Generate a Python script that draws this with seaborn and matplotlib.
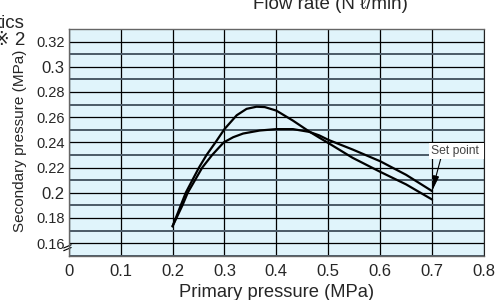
import matplotlib
matplotlib.use("Agg")
import matplotlib.pyplot as plt
import pandas as pd
import seaborn as sns
from matplotlib.ticker import MultipleLocator

# curve: higher peak, ends lower at 0.7 MPa
x_a = [0.200, 0.2159, 0.2255, 0.2382, 0.2510, 0.2656, 0.2828, 0.300, 0.3236, 0.3427,
       0.3618, 0.3777, 0.400, 0.4318, 0.4637, 0.4828, 0.500, 0.547, 0.600, 0.650, 0.700]
y_a = [0.1733, 0.190, 0.200, 0.210, 0.220, 0.230, 0.240, 0.2505, 0.2615, 0.2666,
       0.2683, 0.2680, 0.2652, 0.2573, 0.2485, 0.2437, 0.2395, 0.2277, 0.2166, 0.2066, 0.1946]

# flatter curve, ends at the set point
x_b = [0.200, 0.2191, 0.2293, 0.2433, 0.2573, 0.2764, 0.2987, 0.317, 0.336, 0.368,
       0.400, 0.432, 0.4637, 0.4828, 0.500, 0.547, 0.600, 0.650, 0.700]
y_b = [0.1733, 0.190, 0.200, 0.210, 0.220, 0.230, 0.240, 0.2441, 0.2470, 0.2494,
       0.2505, 0.2505, 0.2483, 0.2455, 0.2420, 0.2343, 0.2250, 0.2142, 0.2013]

x_ticks = [0, 0.1, 0.2, 0.3, 0.4, 0.5, 0.6, 0.7, 0.8]
x_labels = ["0", "0.1", "0.2", "0.3", "0.4", "0.5", "0.6", "0.7", "0.8"]
y_ticks = [0.16, 0.18, 0.20, 0.22, 0.24, 0.26, 0.28, 0.30, 0.32]
y_labels = ["0.16", "0.18", "0.2", "0.22", "0.24", "0.26", "0.28", "0.3", "0.32"]
set_point = (0.700, 0.2013)

sns.set_style("white")
plt.rcParams["font.family"] = ["Liberation Sans", "DejaVu Sans"]

df = pd.concat([
    pd.DataFrame({"x": x_a, "y": y_a, "curve": "a"}),
    pd.DataFrame({"x": x_b, "y": y_b, "curve": "b"}),
])

fig = plt.figure(figsize=(5, 3), dpi=100)
ax = fig.add_axes([0.1374, 0.1477, 0.8306, 0.7556])
ax.set_facecolor("#e0f4fb")

ax.set_xlim(0, 0.8)
ax.set_ylim(0.15, 0.33)
ax.yaxis.set_minor_locator(MultipleLocator(0.01))
ax.grid(which="minor", axis="y", color="#4a5a66", lw=1.4)
ax.grid(which="major", axis="y", color="black", lw=0.9)
ax.grid(which="major", axis="x", color="black", lw=0.9)
ax.set_axisbelow(True)

sns.lineplot(data=df, x="x", y="y", hue="curve", palette=["black", "black"],
             estimator=None, sort=False, lw=1.6, legend=False, ax=ax,
             solid_joinstyle="round", solid_capstyle="round")

ax.set_xticks(x_ticks)
ax.set_xticklabels(x_labels, fontsize=12)
ax.set_yticks(y_ticks)
ax.set_yticklabels(y_labels)
for lab in ax.get_yticklabels():
    lab.set_fontsize(12 if len(lab.get_text()) == 3 else 10.5)
ax.tick_params(axis="x", length=0, pad=6)
ax.tick_params(axis="y", length=0, pad=3)
ax.tick_params(which="minor", length=0)
ax.set_xlabel("")
ax.set_ylabel("")

for side in ["left", "bottom", "top"]:
    ax.spines[side].set_color("#666666")
    ax.spines[side].set_linewidth(1)
ax.spines["right"].set_color("#222222")

# axis break mark
for dy in (0.0, 0.012):
    ax.plot([-0.012, 0.006], [0.022 + dy, 0.036 + dy], transform=ax.transAxes,
            color="black", lw=0.8, clip_on=False)

ax.annotate("", xy=set_point, xytext=(0.717, 0.2276),
            arrowprops=dict(arrowstyle="-|>,head_length=0.9,head_width=0.18",
                            color="black", lw=0.8, shrinkA=0, shrinkB=0))
ax.text(0.698, 0.2329, "Set point ", fontsize=8.7, va="center", ha="left",
        color="#444444",
        bbox=dict(facecolor="white", edgecolor="none", pad=1.5))

fig.text(0.04, 0.532, "Secondary pressure (MPa)", rotation=90, fontsize=11,
         ha="center", va="center")
fig.text(0.553, 0.01, "Primary pressure (MPa)", fontsize=13.2, ha="center",
         va="baseline")
fig.text(0.66, 0.97, "Flow rate (N \u2113/min)", fontsize=13.5, ha="center",
         va="baseline")
fig.text(0.05, 1 - 28 / 300, "tics", fontsize=13.5, ha="right", va="baseline")
fig.text(0.05, 1 - 45 / 300, "\u203b 2", fontsize=13.5, ha="right", va="baseline")

fig.savefig("out.png", dpi=100)
